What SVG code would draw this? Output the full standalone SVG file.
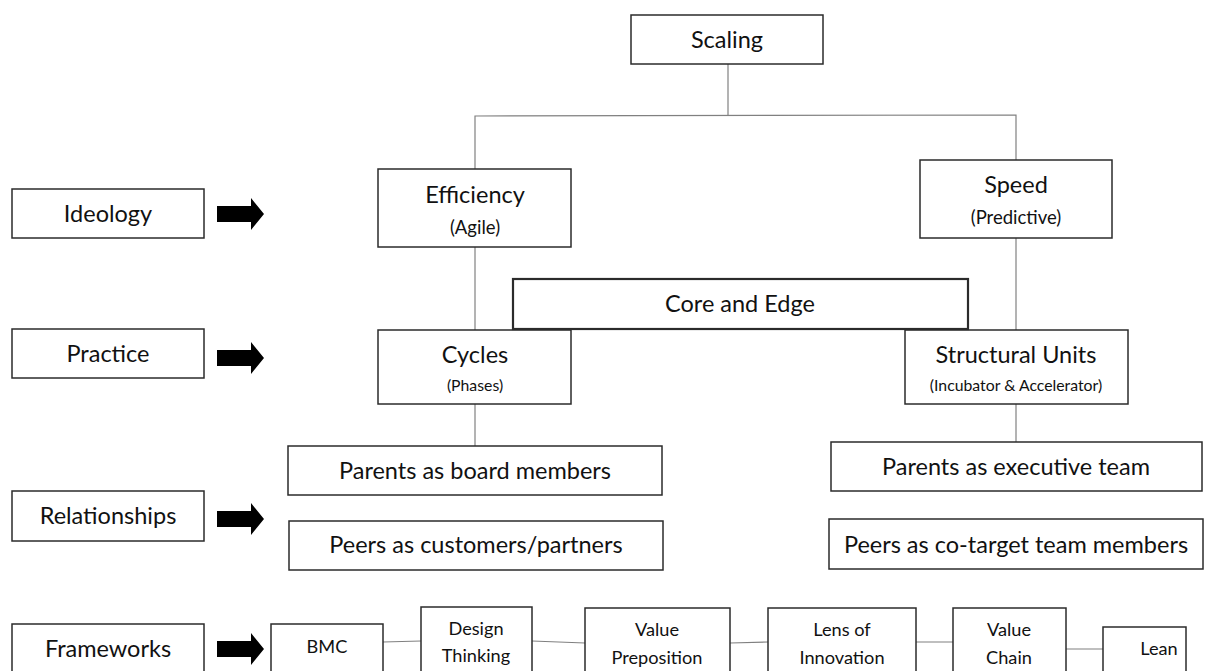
<svg xmlns="http://www.w3.org/2000/svg" width="1212" height="671" viewBox="0 0 1212 671">
  <style>
    .box { fill: #ffffff; stroke: #2b2b2b; stroke-width: 1.5; }
    .link { fill: none; stroke: #808080; stroke-width: 1.2; }
    .arrow { fill: #000000; }
    text { font-family: Lato, "Open Sans", "Liberation Sans", sans-serif; fill: #111111; text-anchor: middle; }
    .big { font-size: 23.5px; }
    .sub { font-size: 18.5px; }
    .tiny { font-size: 15.8px; }
    .fw { font-size: 18.2px; }
  </style>
  <defs>
    <path id="blockArrow" d="M0,-8 H34 V-16 L47,0 L34,16 V8 H0 Z"/>
  </defs>

  <rect width="1212" height="671" fill="#ffffff"/>

  <!-- connectors -->
  <g id="connectors">
    <line class="link" x1="728" y1="64" x2="728" y2="115"/>
    <polyline class="link" points="475,169 475,116 1016,115 1016,160"/>
    <line class="link" x1="475" y1="247" x2="475" y2="330"/>
    <line class="link" x1="1016" y1="238" x2="1016" y2="330"/>
    <line class="link" x1="475" y1="404" x2="475" y2="446"/>
    <line class="link" x1="1016" y1="404" x2="1016" y2="442"/>
    <line class="link" x1="383" y1="642" x2="421" y2="641"/>
    <line class="link" x1="532" y1="641" x2="585" y2="643"/>
    <line class="link" x1="730" y1="643" x2="768" y2="642"/>
    <line class="link" x1="916" y1="642" x2="953" y2="642"/>
    <line class="link" x1="1066" y1="649" x2="1103" y2="649"/>
  </g>

  <!-- level labels and their arrows -->
  <g id="label-ideology">
    <rect class="box" x="12" y="189" width="192" height="49"/>
    <text class="big" x="108" y="222">Ideology</text>
    <use href="#blockArrow" class="arrow" x="217" y="214"/>
  </g>
  <g id="label-practice">
    <rect class="box" x="12" y="329" width="192" height="49"/>
    <text class="big" x="108" y="362">Practice</text>
    <use href="#blockArrow" class="arrow" x="217" y="358"/>
  </g>
  <g id="label-relationships">
    <rect class="box" x="12" y="491" width="192" height="50"/>
    <text class="big" x="108" y="524">Relationships</text>
    <use href="#blockArrow" class="arrow" x="217" y="519"/>
  </g>
  <g id="label-frameworks">
    <rect class="box" x="12" y="624" width="192" height="60"/>
    <text class="big" x="108" y="657">Frameworks</text>
    <use href="#blockArrow" class="arrow" x="217" y="649"/>
  </g>

  <!-- hierarchy -->
  <g id="node-scaling">
    <rect class="box" x="631" y="15" width="192" height="49"/>
    <text class="big" x="727" y="48">Scaling</text>
  </g>
  <g id="node-efficiency">
    <rect class="box" x="378" y="169" width="193" height="78"/>
    <text class="big" x="475" y="203">Efficiency</text>
    <text class="sub" x="475" y="234">(Agile)</text>
  </g>
  <g id="node-speed">
    <rect class="box" x="920" y="160" width="192" height="78"/>
    <text class="big" x="1016" y="193">Speed</text>
    <text class="sub" x="1016" y="224">(Predictive)</text>
  </g>
  <g id="node-cycles">
    <rect class="box" x="378" y="330" width="193" height="74"/>
    <text class="big" x="475" y="363">Cycles</text>
    <text class="tiny" x="475" y="391">(Phases)</text>
  </g>
  <g id="node-structural-units">
    <rect class="box" x="905" y="330" width="223" height="74"/>
    <text class="big" x="1016" y="363">Structural Units</text>
    <text class="tiny" x="1016" y="391">(Incubator &amp; Accelerator)</text>
  </g>
  <g id="node-core-edge">
    <rect class="box" x="513" y="279" width="455" height="50" style="stroke-width:2.2"/>
    <text class="big" x="740" y="312">Core and Edge</text>
  </g>

  <!-- relationships -->
  <g id="node-parents-board">
    <rect class="box" x="288" y="446" width="374" height="49"/>
    <text class="big" x="475" y="479">Parents as board members</text>
  </g>
  <g id="node-peers-customers">
    <rect class="box" x="289" y="521" width="374" height="49"/>
    <text class="big" x="476" y="553">Peers as customers/partners</text>
  </g>
  <g id="node-parents-executive">
    <rect class="box" x="831" y="442" width="371" height="49"/>
    <text class="big" x="1016" y="475">Parents as executive team</text>
  </g>
  <g id="node-peers-cotarget">
    <rect class="box" x="829" y="519" width="374" height="50"/>
    <text class="big" x="1016" y="553">Peers as co-target team members</text>
  </g>

  <!-- frameworks -->
  <g id="fw-bmc">
    <rect class="box" x="271" y="624" width="112" height="60"/>
    <text class="fw" x="327" y="653">BMC</text>
  </g>
  <g id="fw-design-thinking">
    <rect class="box" x="421" y="607" width="111" height="77"/>
    <text class="fw" x="476" y="635">Design</text>
    <text class="fw" x="476" y="662">Thinking</text>
  </g>
  <g id="fw-value-preposition">
    <rect class="box" x="585" y="608" width="145" height="76"/>
    <text class="fw" x="657" y="636">Value</text>
    <text class="fw" x="657" y="664">Preposition</text>
  </g>
  <g id="fw-lens">
    <rect class="box" x="768" y="608" width="148" height="76"/>
    <text class="fw" x="842" y="636">Lens of</text>
    <text class="fw" x="842" y="664">Innovation</text>
  </g>
  <g id="fw-value-chain">
    <rect class="box" x="953" y="608" width="113" height="76"/>
    <text class="fw" x="1009" y="636">Value</text>
    <text class="fw" x="1009" y="664">Chain</text>
  </g>
  <g id="fw-lean">
    <rect class="box" x="1103" y="627" width="83" height="57"/>
    <text class="fw" x="1159" y="655">Lean</text>
  </g>
</svg>
